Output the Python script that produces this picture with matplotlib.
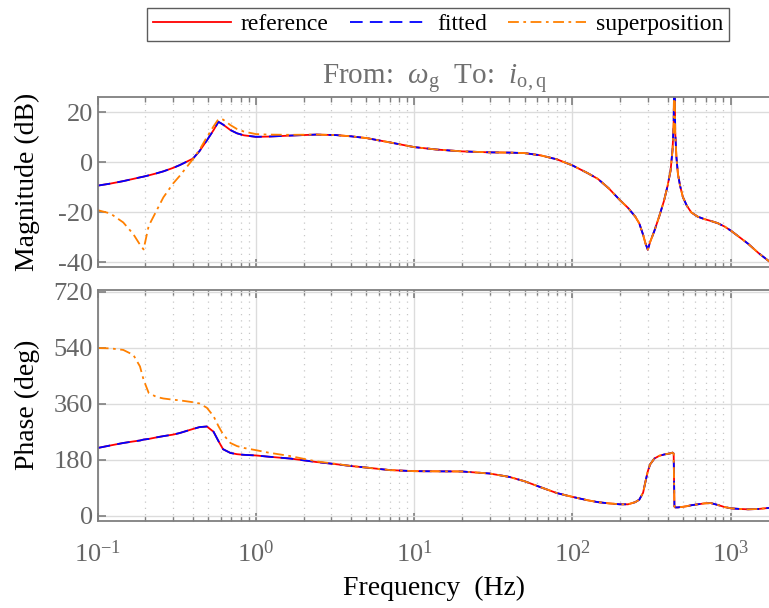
import matplotlib
matplotlib.use("Agg")
import matplotlib.pyplot as plt
from matplotlib.ticker import LogLocator, NullFormatter, FixedLocator, FuncFormatter
import math

plt.rcParams['font.family'] = ['Liberation Serif', 'DejaVu Serif']
plt.rcParams['mathtext.fontset'] = 'custom'
plt.rcParams['mathtext.rm'] = 'Liberation Serif'
plt.rcParams['mathtext.it'] = 'Liberation Serif:italic'
plt.rcParams['mathtext.bf'] = 'Liberation Serif:bold'
plt.rcParams['axes.unicode_minus'] = False

freq = [0.1, 0.12, 0.145, 0.168, 0.185, 0.195, 0.21, 0.235, 0.26, 0.3, 0.33, 0.4, 0.44,
        0.49, 0.54, 0.58, 0.62, 0.69, 0.76, 0.84, 1.0, 1.2, 1.65, 2.4, 3.2, 4.0, 5.0, 7.0,
        10, 14, 20, 30, 40, 50, 63, 80, 100, 125, 145, 170, 200, 225, 250, 265, 280, 290,
        300, 310, 330, 355, 380, 400, 418, 430, 437, 442, 447, 455, 465, 480, 500, 530,
        565, 620, 685, 750, 830, 920, 1010, 1150, 1290, 1500, 1790]

mag_ref = [-9.4, -8.6, -7.6, -6.7, -6.1, -5.8, -5.3, -4.5, -3.7, -2.3, -1.2, 1.4, 4.4,
           8.7, 12.8, 16.1, 15.0, 12.8, 11.5, 10.7, 10.1, 10.2, 10.6, 11.0, 10.8, 10.3, 9.6, 7.9,
           6.0, 5.0, 4.3, 3.9, 3.8, 3.6, 2.7, 1.1, -1.3, -4.4, -6.7, -10.5, -15.2, -18.3, -21.8,
           -24.5, -29.0, -32.5, -35.0, -32.0, -27.5, -21.5, -15.4, -9.5, -3.3, 5.0, 15.0, 45.0,
           12.0, 2.0, -4.7, -9.5, -14.0, -17.5, -20.1, -21.8, -22.8, -23.5, -24.4, -25.8, -27.5,
           -30.2, -32.6, -36.3, -40.1]
mag_fit = list(mag_ref)
mag_sup = [-19.2, -20.5, -24.1, -28.8, -33.0, -34.9, -25.5, -19.5, -14.1, -8.5, -5.5, 1.2, 4.9,
           10.0, 14.3, 17.2, 17.0, 14.8, 13.2, 12.2, 11.2, 11.0, 10.9, 11.0] + mag_ref[24:]

phase_ref = [218, 226, 234, 239, 242, 245, 247, 252, 256, 261, 266, 279, 285,
             287, 270, 240, 214, 202, 198, 196, 194, 190, 184, 173, 166, 160, 155, 147,
             143.5, 143, 142.5, 136, 125, 111, 92, 73, 61, 50, 44, 40, 37, 37, 44,
             52, 74, 110, 143, 165, 184, 193, 197, 199, 201, 203, 200, 30,
             27, 27, 27, 28, 29, 31, 34, 37, 40, 41, 35, 28, 24,
             22, 21, 22, 26]
phase_fit = list(phase_ref)
phase_sup = [539, 538, 533, 517, 480, 437, 395, 382, 377, 373, 371, 365, 361,
             347, 320, 288, 262, 234, 224, 218, 211, 203, 192, 175, 167] + phase_ref[25:]

W, H = 769, 608
fig = plt.figure(figsize=(W / 100, H / 100), dpi=100)

left = 97.7 / W
width = (W - 97.7) / W + 0.002
ax1 = fig.add_axes([left, 1 - 266.7 / H, width, (266.7 - 97.3) / H])
ax2 = fig.add_axes([left, 1 - 520.5 / H, width, (520.5 - 290) / H])

spine_c = '#7f7f7f'
tick_c = '#666666'


def xfmt(v, pos):
    e = int(round(math.log10(v)))
    return r'$\mathrm{10^{%d}}$' % e


def yfmt(v, pos):
    return '%d' % int(round(v))


series = [
    (mag_ref, phase_ref, dict(color='#ff0000', lw=1.3, linestyle='-'), 'reference'),
    (mag_fit, phase_fit, dict(color='#0000ff', lw=1.3, linestyle=(0, (7, 4))), 'fitted'),
    (mag_sup, phase_sup, dict(color='#ff8000', lw=1.3, linestyle=(0, (6, 2.5, 1.5, 2.5))), 'superposition'),
]

for mag, ph, style, name in series:
    ax1.semilogx(freq, mag, label=name, **style)
    ax2.semilogx(freq, ph, label=name, **style)

for ax in (ax1, ax2):
    ax.set_xlim(0.1, 1790)
    ax.xaxis.set_major_locator(LogLocator(base=10, numticks=20))
    ax.xaxis.set_minor_locator(LogLocator(base=10, subs=range(2, 10), numticks=100))
    ax.xaxis.set_minor_formatter(NullFormatter())
    ax.xaxis.set_major_formatter(FuncFormatter(xfmt))
    ax.yaxis.set_major_formatter(FuncFormatter(yfmt))
    ax.grid(True, which='major', color='#dcdcdc', lw=1.0, linestyle='-')
    ax.grid(True, which='minor', axis='x', color='#c8c8c8', lw=0.9, linestyle=(0, (1, 4)))
    ax.set_axisbelow(True)
    ax.tick_params(which='both', direction='in', top=True, right=False, color=spine_c,
                   labelcolor=tick_c, labelsize=19)
    ax.tick_params(which='major', length=6, width=1.2)
    ax.tick_params(which='minor', length=3.5, width=1.0)
    for s in ('left', 'top', 'bottom'):
        ax.spines[s].set_color(spine_c)
        ax.spines[s].set_linewidth(1.3)
    ax.spines['right'].set_visible(False)

ax1.set_ylim(-41.8, 25.9)
ax1.yaxis.set_major_locator(FixedLocator([-40, -20, 0, 20]))
ax1.tick_params(labelbottom=False)
ax1.set_ylabel('Magnitude (dB)', fontsize=20, color='black')
ax1.yaxis.set_label_coords(-0.086, 0.5)
ax1.set_title(r'From:  $\omega_{\mathrm{g}}$  To:  $i_{\mathrm{o,q}}$', fontsize=21,
              color='#707070', pad=10)

ax2.set_ylim(-15, 725.5)
ax2.yaxis.set_major_locator(FixedLocator([0, 180, 360, 540, 720]))
ax2.set_ylabel('Phase (deg)', fontsize=20, color='black')
ax2.yaxis.set_label_coords(-0.086, 0.5)
ax2.set_xlabel('Frequency  (Hz)', fontsize=20, color='black', labelpad=7)
ax2.tick_params(axis='x', pad=14)

handles, labels = ax1.get_legend_handles_labels()
leg = fig.legend(handles, labels, loc='center', bbox_to_anchor=(438 / W, 1 - 24.5 / H),
                 ncol=3, fontsize=17, frameon=True, fancybox=False, handlelength=3.3,
                 handletextpad=0.4, columnspacing=0.9, borderpad=0.25, borderaxespad=0)
leg.get_frame().set_edgecolor('#333333')
leg.get_frame().set_linewidth(1.0)

fig.savefig('out.png', dpi=100)
